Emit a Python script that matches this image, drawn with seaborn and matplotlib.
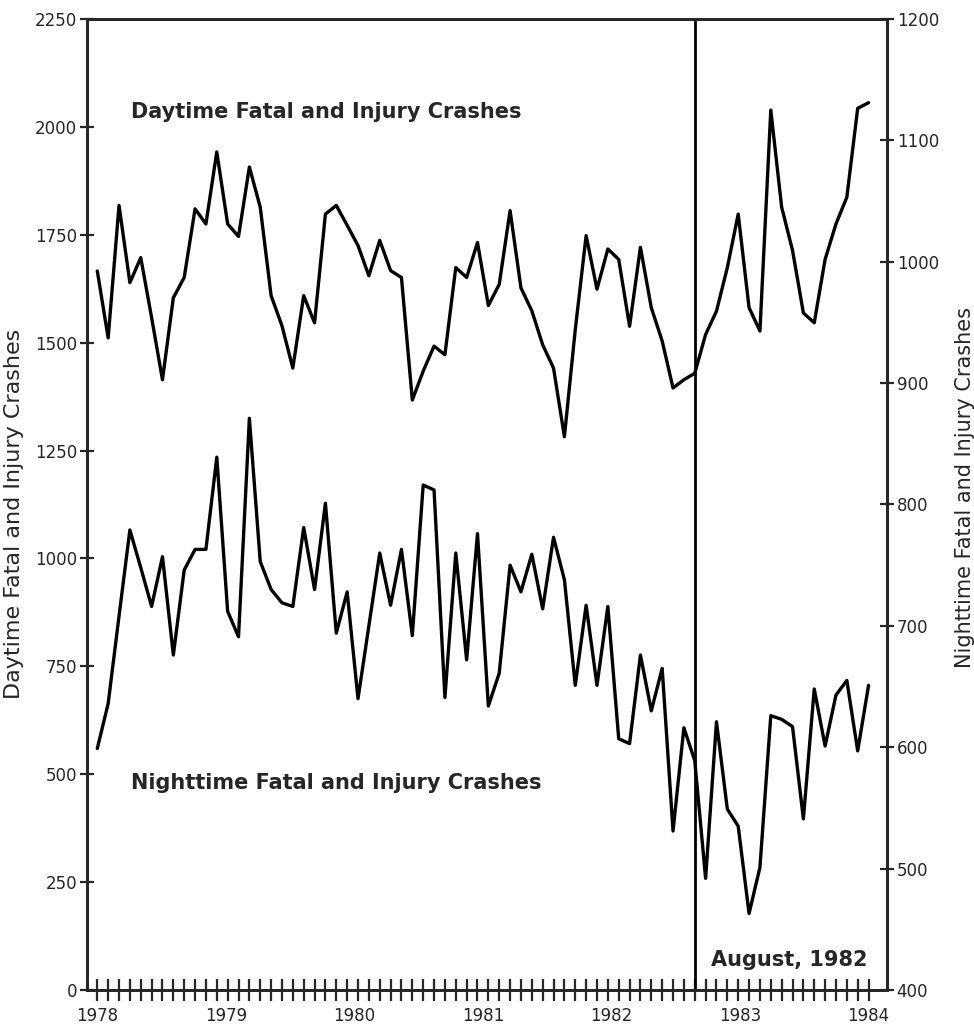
import numpy as np
import pandas as pd
import matplotlib
matplotlib.use("Agg")
import matplotlib.pyplot as plt
import seaborn as sns

# ── Data (monthly, Jan 1978 – Dec 1983) ───────────────────────────────────────

years = ["1978", "1979", "1980", "1981", "1982", "1983", "1984"]

daytime = [
    1666, 1511, 1818, 1639, 1697, 1558, 1414, 1604, 1651, 1810, 1775, 1942,
    1775, 1746, 1907, 1814, 1609, 1539, 1441, 1609, 1546, 1798, 1818, 1772,
    1725, 1655, 1737, 1667, 1651, 1367, 1434, 1492, 1472, 1674, 1651, 1732,
    1586, 1635, 1806, 1627, 1574, 1495, 1441, 1282, 1530, 1748, 1624, 1717,
    1693, 1538, 1721, 1581, 1504, 1395, 1414, 1429, 1519, 1573, 1674, 1798,
    1581, 1527, 2039, 1814, 1714, 1569, 1546, 1693, 1775, 1837, 2043, 2056,
]

nighttime = [
    599, 636, 708, 779, 748, 716, 757, 676, 746, 763, 763, 839,
    712, 691, 871, 753, 730, 719, 716, 781, 730, 801, 694, 728,
    640, 700, 760, 717, 763, 692, 816, 812, 641, 760, 672, 776,
    634, 661, 750, 728, 759, 714, 773, 738, 651, 717, 651, 716,
    607, 603, 676, 630, 665, 531, 616, 589, 492, 621, 549, 535,
    463, 501, 626, 623, 617, 541, 648, 601, 643, 655, 597, 651,
]

law_month = 55  # August 1982

df = pd.DataFrame({
    "month": np.arange(len(daytime)),
    "daytime": daytime,
    "nighttime": nighttime,
})

# ── Style ─────────────────────────────────────────────────────────────────────

sns.set_style("ticks")
plt.rcParams["font.family"] = ["DejaVu Sans"]
plt.rcParams["axes.linewidth"] = 2.0

fig = plt.figure(figsize=(9.74, 10.32), dpi=100)
ax = fig.add_axes([0.0893, 0.0407, 0.8214, 0.9409])
ax2 = ax.twinx()

sns.lineplot(data=df, x="month", y="daytime", ax=ax, color="black", lw=2.4)
sns.lineplot(data=df, x="month", y="nighttime", ax=ax2, color="black", lw=2.4)

ax.axvline(law_month, color="black", lw=2.0)

ax.set_xlim(-0.95, 72.7)
ax.set_ylim(0, 2250)
ax2.set_ylim(400, 1200)

# year labels, one "+" tick per month
ax.set_xticks(np.linspace(0, len(daytime) - 1, len(years)))
ax.set_xticklabels(years, fontsize=12)
ax.set_xticks(df["month"], minor=True)
ax.xaxis.remove_overlapping_locs = False
ax.tick_params(axis="x", which="major", length=0, pad=12)
ax.tick_params(axis="x", which="minor", direction="inout", length=16, width=1.6)

ax.set_yticks(np.arange(0, 2251, 250))
ax.tick_params(axis="y", direction="inout", length=10, width=1.6, labelsize=12, pad=2)
ax2.set_yticks(np.arange(400, 1201, 100))
ax2.tick_params(axis="y", direction="inout", length=10, width=1.6, labelsize=12, pad=2)

for a in (ax, ax2):
    for s in a.spines.values():
        s.set_linewidth(2.0)
        s.set_visible(True)

ax.set_xlabel("")
ax.set_ylabel("Daytime Fatal and Injury Crashes", fontsize=16)
ax.yaxis.set_label_coords(-0.079, 0.49)
ax2.set_ylabel("Nighttime Fatal and Injury Crashes", fontsize=15)
ax2.yaxis.set_label_coords(1.085, 0.517)

ax.text(3.1, 2035, "Daytime Fatal and Injury Crashes", fontsize=15,
        fontweight="bold", ha="left", va="center")
ax.text(3.1, 480, "Nighttime Fatal and Injury Crashes", fontsize=15,
        fontweight="bold", ha="left", va="center")
ax.text(56.5, 70, "August, 1982", fontsize=15,
        fontweight="bold", ha="left", va="center")

plt.savefig("out.png", dpi=100)
